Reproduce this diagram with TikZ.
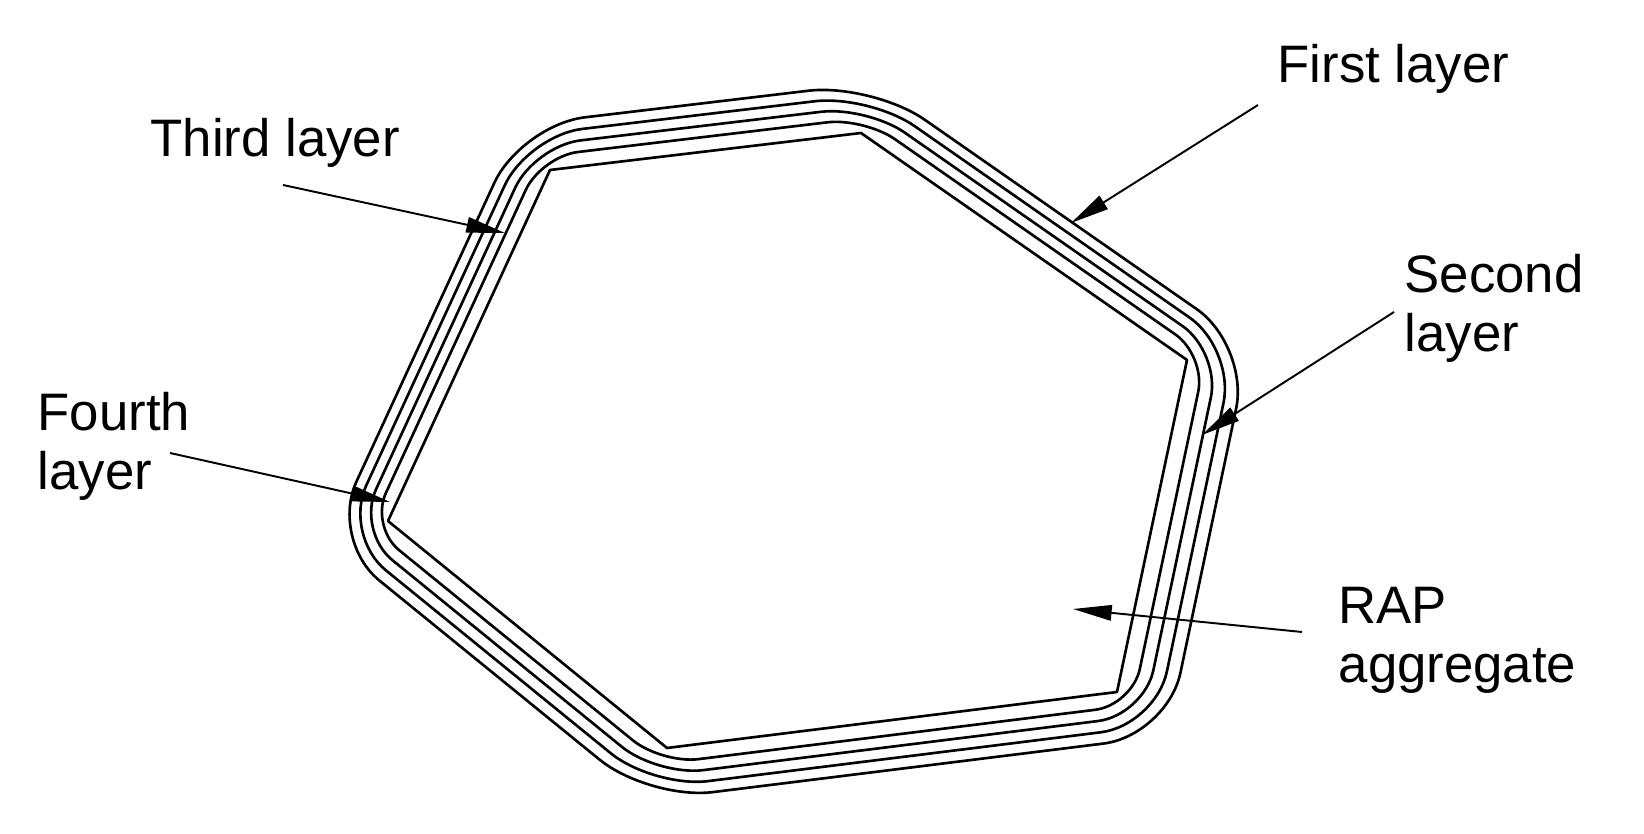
\documentclass[tikz,border=0pt]{standalone}
\usepackage{fontspec}
\setmainfont{Liberation Sans}
\usetikzlibrary{calc,arrows.meta}

\begin{document}
\begin{tikzpicture}[x=0.01cm,y=-0.01cm,
    layer/.style={line width=0.75pt,line join=round},
    lbl/.style={font=\fontsize{15}{17}\selectfont,inner sep=0pt,align=left,anchor=base west},
    pointer/.style={line width=0.55pt,-{Triangle[length=11pt,width=4.4pt]}}]

\useasboundingbox (0,0) rectangle (1644,834);

% corners of the aggregate
\coordinate (a) at (550,170);
\coordinate (b) at (861,133);
\coordinate (c) at (1187,360);
\coordinate (d) at (1117,692);
\coordinate (e) at (667,748);
\coordinate (f) at (388,521);

% outward shift of each corner for one layer
\coordinate (ma) at (-6.73,-10.48);
\coordinate (mb) at (2.60,-11.59);
\coordinate (mc) at (14.50,-3.30);
\coordinate (md) at (11.67,10.15);
\coordinate (me) at (-4.13,12.10);
\coordinate (mf) at (-13.60,4.41);

\draw[layer] (a) -- (b) -- (c) -- (d) -- (e) -- (f) -- cycle;

% the four layers round it
\foreach \f/\r in {1.3/0.37,2.3/0.46,3.3/0.55,4.3/0.64}
  \draw[layer,rounded corners=\r cm] ($(a)+\f*(ma)$) -- ($(b)+\f*(mb)$) -- ($(c)+\f*(mc)$)
     -- ($(d)+\f*(md)$) -- ($(e)+\f*(me)$) -- ($(f)+\f*(mf)$) -- cycle;

% labels (multi-line ones sit on their last line)
\node[lbl] (first) at (1277,83) {First layer};
\node[lbl] (third) at (150,157) {Third layer};
\node[lbl] (second) at (1404,352) {Second\\layer};
\node[lbl] (fourth) at (37,490) {Fourth\\layer};
\node[lbl] (rap) at (1338,683) {RAP\\aggregate};

\coordinate (first tail) at (1258,105);
\coordinate (first tip) at (1071,223);
\coordinate (third tail) at (283,185);
\coordinate (third tip) at (505,233);
\coordinate (second tail) at (1394,312);
\coordinate (second tip) at (1202,435);
\coordinate (fourth tail) at (170,453);
\coordinate (fourth tip) at (390,502);
\coordinate (rap tail) at (1302,632);
\coordinate (rap tip) at (1073,609);

\draw[pointer] (first tail) -- (first tip);
\draw[pointer] (third tail) -- (third tip);
\draw[pointer] (second tail) -- (second tip);
\draw[pointer] (fourth tail) -- (fourth tip);
\draw[pointer] (rap tail) -- (rap tip);
\end{tikzpicture}
\end{document}
